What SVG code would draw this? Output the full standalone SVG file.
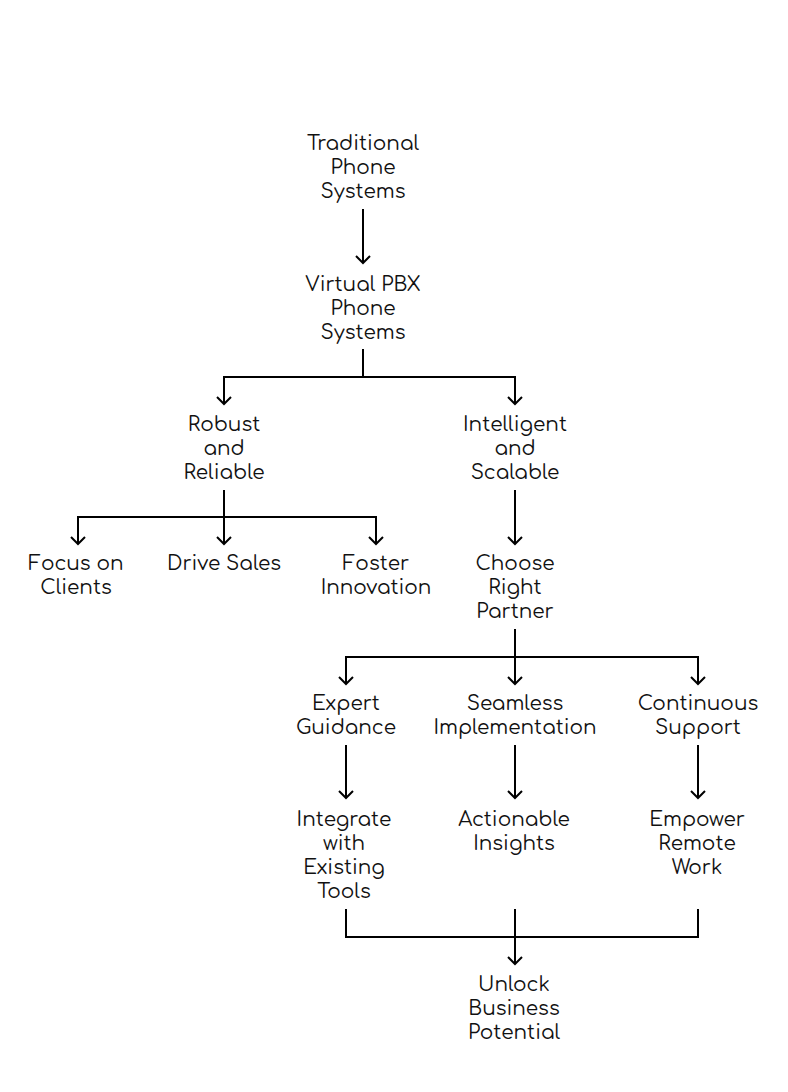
<svg xmlns="http://www.w3.org/2000/svg" width="788" height="1092" viewBox="0 0 788 1092">
<style>
text{font-family:Comfortaa,"Noto Sans","DejaVu Sans",sans-serif;font-size:20px;fill:#111;text-anchor:middle}
.c{fill:none;stroke:#000;stroke-width:2}
</style>
<defs>
<marker id="ah" markerUnits="userSpaceOnUse" markerWidth="18" markerHeight="18" refX="9" refY="9" orient="auto" viewBox="0 0 18 18">
<path d="M2,2 L9,9 L2,16" fill="none" stroke="#000" stroke-width="2"/>
</marker>
</defs>
<rect width="788" height="1092" fill="#fff"/>
<g id="connectors">
<path class="c" d="M363,209 V263" marker-end="url(#ah)"/>
<path class="c" d="M363,349 V377 H224 V404" marker-end="url(#ah)"/>
<path class="c" d="M363,377 H515 V404" marker-end="url(#ah)"/>
<path class="c" d="M224,490 V544" marker-end="url(#ah)"/>
<path class="c" d="M224,517 H78 V544" marker-end="url(#ah)"/>
<path class="c" d="M224,517 H376 V544" marker-end="url(#ah)"/>
<path class="c" d="M515,490 V544" marker-end="url(#ah)"/>
<path class="c" d="M515,629 V684" marker-end="url(#ah)"/>
<path class="c" d="M515,657 H346 V684" marker-end="url(#ah)"/>
<path class="c" d="M515,657 H698 V684" marker-end="url(#ah)"/>
<path class="c" d="M346,745 V798" marker-end="url(#ah)"/>
<path class="c" d="M515,745 V798" marker-end="url(#ah)"/>
<path class="c" d="M698,745 V798" marker-end="url(#ah)"/>
<path class="c" d="M346,909 V937 H698 V909"/>
<path class="c" d="M515,909 V964" marker-end="url(#ah)"/>
</g>
<g id="n-traditional"><text x="363" y="150">Traditional</text><text x="363" y="174">Phone</text><text x="363" y="198">Systems</text></g>
<g id="n-virtual"><text x="363" y="291">Virtual PBX</text><text x="363" y="315">Phone</text><text x="363" y="339">Systems</text></g>
<g id="n-robust"><text x="224" y="431">Robust</text><text x="224" y="455">and</text><text x="224" y="479">Reliable</text></g>
<g id="n-intelligent"><text x="515" y="431">Intelligent</text><text x="515" y="455">and</text><text x="515" y="479">Scalable</text></g>
<g id="n-focus"><text x="76" y="570">Focus on</text><text x="76" y="594">Clients</text></g>
<g id="n-drive"><text x="224" y="570">Drive Sales</text></g>
<g id="n-foster"><text x="376" y="570">Foster</text><text x="376" y="594">Innovation</text></g>
<g id="n-choose"><text x="515" y="570">Choose</text><text x="515" y="594">Right</text><text x="515" y="618">Partner</text></g>
<g id="n-expert"><text x="346" y="710">Expert</text><text x="346" y="734">Guidance</text></g>
<g id="n-seamless"><text x="515" y="710">Seamless</text><text x="515" y="734">Implementation</text></g>
<g id="n-continuous"><text x="698" y="710">Continuous</text><text x="698" y="734">Support</text></g>
<g id="n-integrate"><text x="344" y="826">Integrate</text><text x="344" y="850">with</text><text x="344" y="874">Existing</text><text x="344" y="898">Tools</text></g>
<g id="n-actionable"><text x="514" y="826">Actionable</text><text x="514" y="850">Insights</text></g>
<g id="n-empower"><text x="697" y="826">Empower</text><text x="697" y="850">Remote</text><text x="697" y="874">Work</text></g>
<g id="n-unlock"><text x="514" y="991">Unlock</text><text x="514" y="1015">Business</text><text x="514" y="1039">Potential</text></g>
</svg>
